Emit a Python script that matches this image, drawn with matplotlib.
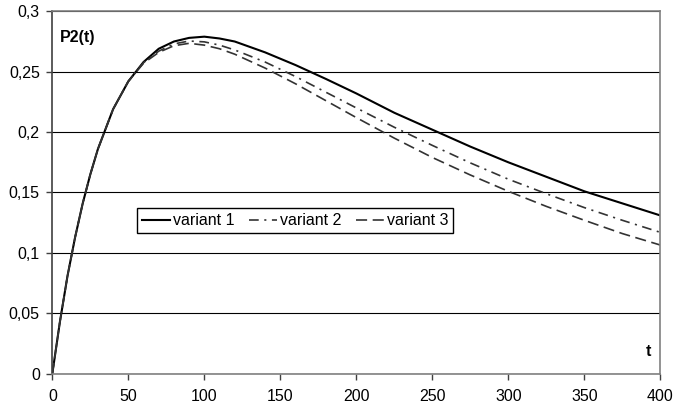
import matplotlib
matplotlib.use("Agg")
import matplotlib.pyplot as plt

plt.rcParams['font.family'] = ['Liberation Sans', 'DejaVu Sans']
plt.rcParams['lines.scale_dashes'] = False

# values
t = [0, 5, 10, 15, 20, 25, 30, 40, 50, 60, 70, 80, 90, 100, 110, 120, 140,
     160, 180, 200, 225, 250, 275, 300, 325, 350, 375, 400]
variant1 = [0, 0.043, 0.081, 0.113, 0.141, 0.165, 0.186, 0.219, 0.242, 0.258,
            0.269, 0.275, 0.278, 0.279, 0.2775, 0.275, 0.266, 0.2555, 0.244,
            0.232, 0.216, 0.202, 0.188, 0.175, 0.163, 0.151, 0.141, 0.131]
variant2 = [0, 0.043, 0.081, 0.113, 0.141, 0.165, 0.186, 0.219, 0.242, 0.2575,
            0.267, 0.273, 0.2754, 0.2747, 0.272, 0.268, 0.258, 0.246, 0.233,
            0.220, 0.204, 0.189, 0.1745, 0.161, 0.149, 0.1375, 0.127, 0.117]
variant3 = [0, 0.043, 0.081, 0.113, 0.141, 0.165, 0.186, 0.219, 0.242, 0.257,
            0.266, 0.2715, 0.2735, 0.272, 0.269, 0.2645, 0.253, 0.240, 0.226,
            0.212, 0.195, 0.179, 0.1645, 0.151, 0.1385, 0.127, 0.116, 0.1065]
labels = ['variant 1', 'variant 2', 'variant 3']

fig = plt.figure(figsize=(6.76, 4.08), dpi=100)
ax = fig.add_axes([0.0774, 0.0841, 0.8994, 0.8882])

ax.plot(t, variant1, color='black', lw=1.5, label=labels[0])
ax.plot(t, variant2, color='#333333', lw=1.2, dashes=(7, 4, 1.5, 4), label=labels[1])
ax.plot(t, variant3, color='#333333', lw=1.2, dashes=(8, 4), label=labels[2])

ax.set_xlim(0, 400)
ax.set_ylim(0, 0.3)
ax.set_xticks(range(0, 401, 50))
ax.set_yticks([0, 0.05, 0.1, 0.15, 0.2, 0.25, 0.3])
ax.set_yticklabels(['0', '0,05', '0,1', '0,15', '0,2', '0,25', '0,3'])
ax.tick_params(labelsize=11.5, length=4, width=1, color='#404040', direction='out')
ax.tick_params(axis='x', pad=7)
ax.tick_params(axis='y', pad=5)
ax.yaxis.grid(True, color='black', lw=0.8)
ax.set_axisbelow(True)
for side in ['left', 'bottom', 'right', 'top']:
    ax.spines[side].set_color('#808080')
    ax.spines[side].set_linewidth(1.2)
ax.spines['left'].set_color('#404040')

ax.text(5.1, 0.2787, 'P2(t)', fontsize=11.5, fontweight='bold', va='center')
ax.text(392, 0.018, 't', fontsize=11.5, fontweight='bold', va='center', ha='center')

ax.legend(loc='lower left', bbox_to_anchor=(0.2027, 0.429), bbox_transform=fig.transFigure,
          ncol=3, fontsize=11.5, frameon=True, fancybox=False, edgecolor='black',
          framealpha=1, handlelength=1.75, handletextpad=0.2, columnspacing=0.9,
          borderpad=0.3, borderaxespad=0)

fig.savefig('out.png', dpi=100)
